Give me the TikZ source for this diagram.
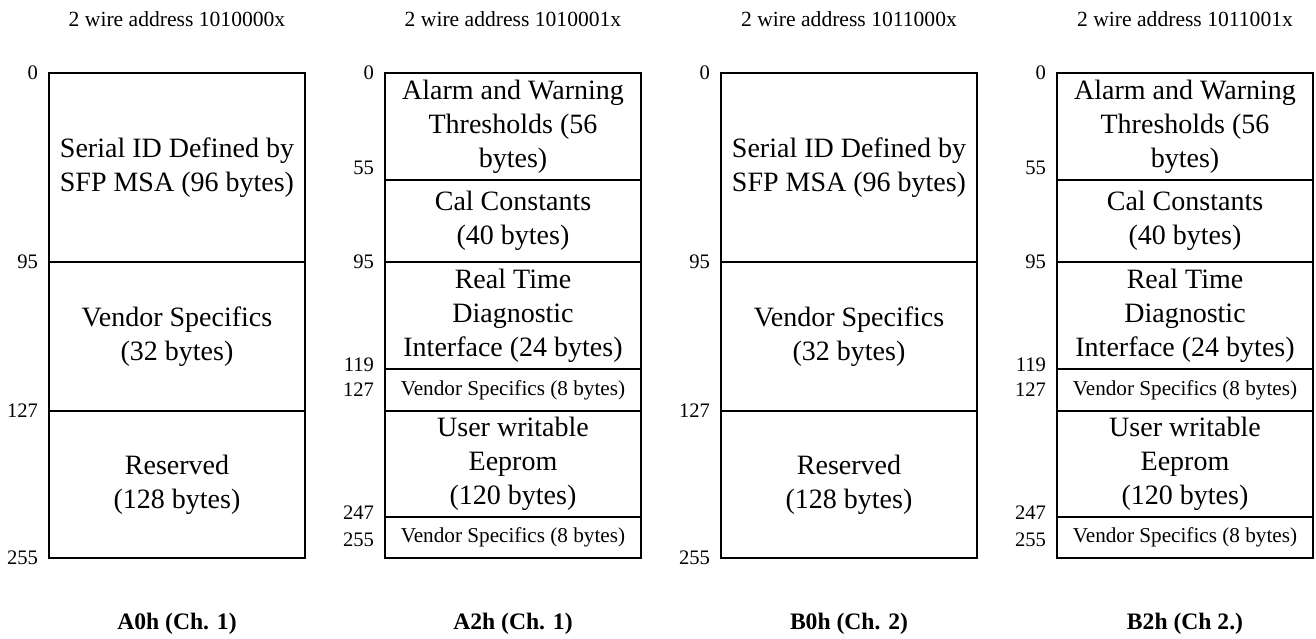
\documentclass[tikz,border=0pt]{standalone}
\usepackage{fontspec}
\setmainfont{Liberation Serif}
\usetikzlibrary{positioning}

\begin{document}
\begin{tikzpicture}[
	x = 0.5pt, y = -0.5pt,  % one unit per pixel, y grows down
	line width = 1pt,
	cell/.style = {draw, rectangle, minimum width = 128pt, inner sep = 0pt, outer sep = 0pt,
		align = center, font = \fontsize{14}{17}\selectfont},
	smallcell/.style = {cell, font = \fontsize{10.6}{12}\selectfont},
	addr/.style = {anchor = east, xshift = -5pt, inner sep = 0pt, font = \fontsize{10.3}{12}\selectfont},
	wireaddr/.style = {anchor = base, inner sep = 0pt, font = \fontsize{10.8}{13}\selectfont},
	chname/.style = {anchor = base, inner sep = 0pt, font = \fontsize{11.8}{14}\selectfont\bfseries}
	]
	
	\useasboundingbox (0,0) rectangle (1316,638);
	
	% A0h
	\begin{scope}[xshift=88.5pt]
	\node[wireaddr] (a0wire) at (0,26) {2 wire address 1010000x};
	\node[cell, anchor = north, minimum height = 94.5pt] (a0serial) at (0,73) {Serial ID Defined by\\SFP MSA (96 bytes)};
	\node[cell, minimum height = 74.5pt, below = 0pt of a0serial] (a0vendor) {Vendor Specifics\\(32 bytes)};
	\node[cell, minimum height = 73.5pt, below = 0pt of a0vendor] (a0reserved) {Reserved\\(128 bytes)};
	\node[addr] (a0n0) at (a0serial.north west) {0};
	\node[addr] (a0n95) at (a0vendor.north west) {95};
	\node[addr] (a0n127) at (a0reserved.north west) {127};
	\node[addr] (a0n255) at (a0reserved.south west) {255};
	\node[chname] (a0name) at (0,629) {A0h (Ch. 1)};
	\end{scope}
	
	% A2h
	\begin{scope}[xshift=256.5pt]
	\node[wireaddr] (a2wire) at (0,26) {2 wire address 1010001x};
	\node[cell, anchor = north, minimum height = 53.5pt] (a2alarm) at (0,73) {Alarm and Warning\\Thresholds (56\\bytes)};
	\node[cell, minimum height = 41pt, below = 0pt of a2alarm] (a2cal) {Cal Constants\\(40 bytes)};
	\node[cell, minimum height = 53.5pt, below = 0pt of a2cal] (a2diag) {Real Time\\Diagnostic\\Interface (24 bytes)};
	\node[smallcell, minimum height = 21pt, below = 0pt of a2diag] (a2venda) {Vendor Specifics (8 bytes)};
	\node[cell, minimum height = 53pt, below = 0pt of a2venda] (a2user) {User writable\\Eeprom\\(120 bytes)};
	\node[smallcell, minimum height = 20.5pt, below = 0pt of a2user] (a2vendb) {Vendor Specifics (8 bytes)};
	\node[addr] (a2n0) at (a2alarm.north west) {0};
	\node[addr] (a2n55) at ([yshift=6pt]a2alarm.south west) {55};
	\node[addr] (a2n95) at (a2cal.south west) {95};
	\node[addr] (a2n119) at ([yshift=2.25pt]a2diag.south west) {119};
	\node[addr] (a2n127) at (a2venda.west) {127};
	\node[addr] (a2n247) at ([yshift=2pt]a2user.south west) {247};
	\node[addr] (a2n255) at ([yshift=-1pt]a2vendb.west) {255};
	\node[chname] (a2name) at (0,629) {A2h (Ch. 1)};
	\end{scope}
	
	% B0h
	\begin{scope}[xshift=424.5pt]
	\node[wireaddr] (b0wire) at (0,26) {2 wire address 1011000x};
	\node[cell, anchor = north, minimum height = 94.5pt] (b0serial) at (0,73) {Serial ID Defined by\\SFP MSA (96 bytes)};
	\node[cell, minimum height = 74.5pt, below = 0pt of b0serial] (b0vendor) {Vendor Specifics\\(32 bytes)};
	\node[cell, minimum height = 73.5pt, below = 0pt of b0vendor] (b0reserved) {Reserved\\(128 bytes)};
	\node[addr] (b0n0) at (b0serial.north west) {0};
	\node[addr] (b0n95) at (b0vendor.north west) {95};
	\node[addr] (b0n127) at (b0reserved.north west) {127};
	\node[addr] (b0n255) at (b0reserved.south west) {255};
	\node[chname] (b0name) at (0,629) {B0h (Ch. 2)};
	\end{scope}
	
	% B2h
	\begin{scope}[xshift=592.5pt]
	\node[wireaddr] (b2wire) at (0,26) {2 wire address 1011001x};
	\node[cell, anchor = north, minimum height = 53.5pt] (b2alarm) at (0,73) {Alarm and Warning\\Thresholds (56\\bytes)};
	\node[cell, minimum height = 41pt, below = 0pt of b2alarm] (b2cal) {Cal Constants\\(40 bytes)};
	\node[cell, minimum height = 53.5pt, below = 0pt of b2cal] (b2diag) {Real Time\\Diagnostic\\Interface (24 bytes)};
	\node[smallcell, minimum height = 21pt, below = 0pt of b2diag] (b2venda) {Vendor Specifics (8 bytes)};
	\node[cell, minimum height = 53pt, below = 0pt of b2venda] (b2user) {User writable\\Eeprom\\(120 bytes)};
	\node[smallcell, minimum height = 20.5pt, below = 0pt of b2user] (b2vendb) {Vendor Specifics (8 bytes)};
	\node[addr] (b2n0) at (b2alarm.north west) {0};
	\node[addr] (b2n55) at ([yshift=6pt]b2alarm.south west) {55};
	\node[addr] (b2n95) at (b2cal.south west) {95};
	\node[addr] (b2n119) at ([yshift=2.25pt]b2diag.south west) {119};
	\node[addr] (b2n127) at (b2venda.west) {127};
	\node[addr] (b2n247) at ([yshift=2pt]b2user.south west) {247};
	\node[addr] (b2n255) at ([yshift=-1pt]b2vendb.west) {255};
	\node[chname] (b2name) at (0,629) {B2h (Ch 2.)};
	\end{scope}
	
\end{tikzpicture}
\end{document}
